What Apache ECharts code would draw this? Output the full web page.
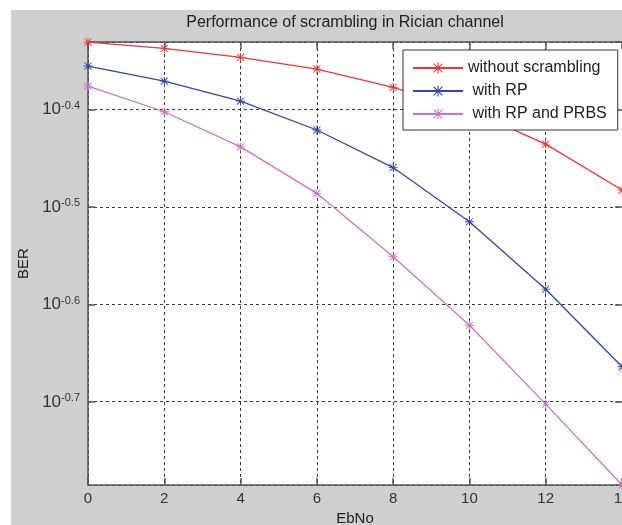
<!DOCTYPE html>
<html>
<head>
<meta charset="utf-8">
<script src="https://cdn.jsdelivr.net/npm/echarts@6/dist/echarts.min.js"></script>
<style>
  html, body { margin: 0; padding: 0; background: #fff; }
  #chart { width: 622px; height: 525px; }
</style>
</head>
<body>
<div id="chart"></div>
<script>
// Eb/No sweep (dB)
const ebno = [0, 2, 4, 6, 8, 10, 12, 14];
// Bit error rate for each scheme
const berNoScrambling = [0.4666, 0.4597, 0.4500, 0.4377, 0.4193, 0.3974, 0.3667, 0.3290];
const berRP           = [0.4409, 0.4255, 0.4059, 0.3791, 0.3469, 0.3052, 0.2603, 0.2167];
const berRPPRBS       = [0.4205, 0.3958, 0.3643, 0.3264, 0.2810, 0.2390, 0.1984, 0.1639];
// BER range covered by the vertical axis
const berRange = [0.1639, 0.4667];
const seriesNames = ['without scrambling', ' with RP', ' with RP and PRBS'];
const seriesColors = ['#e8383a', '#3347a5', '#cc74c4'];

// MATLAB-style asterisk marker: four crossing bars
const asterisk = 'path://M0,9L20,9L20,11L0,11Z M9,0L11,0L11,20L9,20Z ' +
  'M1.4,2.8L2.8,1.4L18.6,17.2L17.2,18.6Z M17.2,1.4L18.6,2.8L2.8,18.6L1.4,17.2Z';

const toLogPoints = arr => ebno.map((x, i) => [x, Math.log10(arr[i])]);

const FONT = 'Liberation Sans, Arial, sans-serif';
const gridDash = { color: '#3a3a3a', width: 1, type: [3, 3] };
const axisStroke = { color: '#555', width: 1.5 };

const chart = echarts.init(document.getElementById('chart'), null, { renderer: 'canvas' });

chart.setOption({
  animation: false,
  backgroundColor: '#fff',
  graphic: [
    {
      type: 'rect', z: -10, silent: true,
      shape: { x: 11, y: 10, width: 611, height: 515 },
      style: { fill: '#cfcfcf' }
    },
    {
      type: 'text', z: 10, silent: true,
      x: 345, y: 23,
      style: {
        text: 'Performance of scrambling in Rician channel',
        fontFamily: FONT,
        fontSize: 16, fill: '#222',
        align: 'center', verticalAlign: 'middle',
        textAlign: 'center', textVerticalAlign: 'middle'
      }
    }
  ],
  grid: {
    left: 88, top: 42, right: 0, bottom: 40,
    outerBoundsMode: 'none',
    containLabel: false,
    show: true, backgroundColor: '#fff', borderWidth: 0
  },
  legend: {
    orient: 'vertical',
    left: 403, top: 50,
    padding: [10, 11, 8, 9],
    itemWidth: 50, itemHeight: 14, itemGap: 7,
    backgroundColor: '#fff',
    borderColor: '#333', borderWidth: 1, borderRadius: 0,
    textStyle: { fontFamily: FONT, fontSize: 16, color: '#222' },
    data: seriesNames
  },
  xAxis: [
    {
      type: 'value', min: 0, max: 14, interval: 2,
      name: 'EbNo', nameLocation: 'middle', nameGap: 26,
      nameTextStyle: { fontFamily: FONT, fontSize: 15, color: '#222' },
      axisLine: { show: true, onZero: false, lineStyle: axisStroke },
      axisTick: { show: true, inside: true, length: 7, lineStyle: axisStroke },
      axisLabel: { margin: 6, fontFamily: FONT, fontSize: 15, color: '#333' },
      splitLine: { show: true, lineStyle: gridDash }
    },
    {
      type: 'value', min: 0, max: 14, interval: 2, position: 'top',
      axisLine: { show: true, onZero: false, lineStyle: axisStroke },
      axisTick: { show: true, inside: true, length: 7, lineStyle: axisStroke },
      axisLabel: { show: false },
      splitLine: { show: false }
    }
  ],
  yAxis: [
    {
      type: 'value',
      min: Math.log10(berRange[0]), max: Math.log10(berRange[1]),
      name: 'BER', nameLocation: 'middle', nameGap: 52,
      nameTextStyle: { fontFamily: FONT, fontSize: 15, color: '#222' },
      axisLine: { show: true, onZero: false, lineStyle: axisStroke },
      axisTick: { show: true, inside: true, length: 7, lineStyle: axisStroke },
      axisLabel: {
        margin: 8,
        showMinLabel: false, showMaxLabel: false,
        formatter: v => {
          if (Math.abs(v * 10 - Math.round(v * 10)) > 1e-6) return '';
          return '{b|10}{s|' + v.toFixed(1) + '}';
        },
        rich: {
          b: { fontFamily: FONT, fontSize: 17, color: '#333',
               lineHeight: 18, padding: [8, 0, 0, 0], verticalAlign: 'bottom' },
          s: { fontFamily: FONT, fontSize: 11, color: '#333',
               lineHeight: 11, verticalAlign: 'top' }
        }
      },
      splitLine: { show: true, lineStyle: gridDash }
    },
    {
      type: 'value', position: 'right',
      min: Math.log10(berRange[0]), max: Math.log10(berRange[1]),
      axisLine: { show: false, onZero: false },
      axisTick: { show: true, inside: true, length: 7, lineStyle: axisStroke },
      axisLabel: { show: false },
      splitLine: { show: false }
    }
  ],
  series: [berNoScrambling, berRP, berRPPRBS].map((arr, i) => ({
    name: seriesNames[i],
    type: 'line',
    xAxisIndex: 0, yAxisIndex: 0,
    data: toLogPoints(arr),
    symbol: asterisk,
    symbolSize: 9,
    showAllSymbol: true,
    color: seriesColors[i],
    lineStyle: { color: seriesColors[i], width: 1.3 },
    itemStyle: { color: seriesColors[i] },
    z: 3 + i
  }))
});
</script>
</body>
</html>
